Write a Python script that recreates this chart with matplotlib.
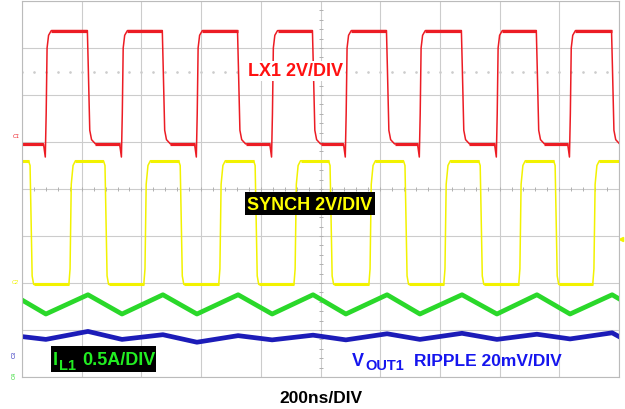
import numpy as np
import matplotlib
matplotlib.use("Agg")
import matplotlib.pyplot as plt
from matplotlib.patches import Rectangle

W, H = 625, 410
plt.rcParams.update({"font.family": ["Liberation Sans", "DejaVu Sans"]})

# scope screen: time in ns (200 ns/div, 10 div), vertical in divisions (8 div)
LX_RISE = [80, 335, 586, 838, 1085, 1333, 1591, 1836]
LX_FALL = [221, 472, 724, 975, 1223, 1474, 1725, 1977]
LX_HIGH, LX_LOW, LX_SPIKE = 3.37, 0.96, 0.68

SYNC_FALL = [30, 281, 533, 784, 1035, 1286, 1538, 1789]
SYNC_RISE = [161, 412, 663, 915, 1166, 1417, 1668, 1916]
SYNC_HIGH, SYNC_LOW = 0.60, -2.03

IL_PEAK, IL_VALLEY = -2.25, -2.66          # inductor current at LX fall / rise
VOUT_START = -3.14
VOUT_PEAK = [-3.03, -3.10, -3.12, -3.11, -3.08, -3.07, -3.09, -3.06]
VOUT_VALLEY = [-3.20, -3.20, -3.26, -3.21, -3.21, -3.20, -3.20, -3.19]

RED, YEL, GRN, BLU = "#ec1c24", "#f2f200", "#2ad82a", "#1c1cb8"
GRID = "#cccccc"


def px(x, y):
    return x / W, 1 - y / H


def lx_trace():
    t, v = [-20], [LX_LOW]
    for r, f in zip(LX_RISE, LX_FALL):
        t += [r - 8, r - 2, r + 1, r + 4, r + 9, r + 18, f - 2, f + 1, f + 6, f + 12, f + 25]
        v += [LX_LOW, LX_SPIKE, 1.6, 3.0, 3.27, LX_HIGH, LX_HIGH, 2.6, 1.25, 1.05, LX_LOW]
    t.append(2020); v.append(LX_LOW)
    return t, v


def sync_trace():
    t, v = [-20], [SYNC_HIGH]
    for f, r in zip(SYNC_FALL, SYNC_RISE):
        t += [f - 8, f - 3, f, f + 4, f + 9, r - 4, r, r + 4, r + 10, r + 18]
        v += [SYNC_HIGH, SYNC_HIGH - 0.1, -0.5, -1.85, SYNC_LOW,
              SYNC_LOW, -1.7, 0.1, 0.5, SYNC_HIGH]
    t.append(2020); v.append(SYNC_HIGH)
    return t, v


fig = plt.figure(figsize=(W / 100, H / 100), dpi=100)
ax = fig.add_axes([22 / W, 1 - 378 / H, 597 / W, 376 / H])
ax.set_xlim(0, 2000); ax.set_ylim(-4, 4)
ax.set_xticks(np.arange(0, 2001, 200)); ax.set_yticks(np.arange(-4, 4.1, 1))
ax.set_xticklabels([]); ax.set_yticklabels([])
ax.tick_params(length=0)
ax.grid(True, color=GRID, lw=0.8)
for s in ax.spines.values():
    s.set_color("#bbbbbb"); s.set_linewidth(0.8)

# centre-line graticule ticks and dotted reference
xs = np.arange(0, 2001, 40)
ys = np.arange(-4, 4.01, 0.2)
ax.plot(xs, np.zeros_like(xs), ls="none", marker="|", ms=3, mew=0.7, color="#b0b0b0")
ax.plot(np.full_like(ys, 1000), ys, ls="none", marker="_", ms=3, mew=0.7, color="#b0b0b0")
ax.plot(xs, np.full_like(xs, 2.5, dtype=float), ls="none", marker="o", ms=0.9,
        color="#cccccc")

# traces
t, v = lx_trace()
ax.plot(t, v, color=RED, lw=1.1)
for r, f in zip(LX_RISE, LX_FALL):
    ax.plot([r + 18, f - 2], [LX_HIGH, LX_HIGH], color=RED, lw=2.3, solid_capstyle="butt")
lows = [-20] + [f + 25 for f in LX_FALL]
for a, b in zip(lows, LX_RISE + [2020]):
    ax.plot([a, b - 8], [LX_LOW, LX_LOW], color=RED, lw=2.3, solid_capstyle="butt")

t, v = sync_trace()
ax.plot(t, v, color=YEL, lw=1.1)
for f, r in zip(SYNC_FALL, SYNC_RISE):
    ax.plot([f + 9, r - 4], [SYNC_LOW, SYNC_LOW], color=YEL, lw=2.2, solid_capstyle="butt")
highs = [-20] + [r + 18 for r in SYNC_RISE]
for a, b in zip(highs, SYNC_FALL + [2020]):
    ax.plot([a, b - 8], [SYNC_HIGH, SYNC_HIGH], color=YEL, lw=2.2, solid_capstyle="butt")

gt, gv = [LX_FALL[0] - 251], [IL_PEAK]
bt, bv = [0], [VOUT_START]
for i, (r, f) in enumerate(zip(LX_RISE, LX_FALL)):
    gt += [r, f]; gv += [IL_VALLEY, IL_PEAK]
    bt += [r, f]; bv += [VOUT_VALLEY[i], VOUT_PEAK[i]]
gt.append(LX_RISE[-1] + 251); gv.append(IL_VALLEY)
bt.append(2000); bv.append(VOUT_START)
ax.plot(gt, gv, color=GRN, lw=3.4)
ax.plot(bt, bv, color=BLU, lw=3.4)

# trigger marker
ax.plot([2008], [-1.07], marker="<", ms=3, color=YEL, clip_on=False)

# channel markers at left edge
fig.text(*px(16, 137), "C1", color=RED, fontsize=4, ha="center", va="center", style="italic")
fig.text(*px(15, 283), "C2", color=YEL, fontsize=4, ha="center", va="center", style="italic")
fig.text(*px(14, 355), "C3", color=BLU, fontsize=4, ha="center", va="center", rotation=90)
fig.text(*px(14, 375), "C4", color=GRN, fontsize=4, ha="center", va="center", rotation=90)

# channel labels
fig.text(*px(296, 72), "LX1 2V/DIV", color="#ff1010", fontsize=13, weight="bold",
         ha="center", va="center",
         bbox=dict(boxstyle="square,pad=0.1", fc="white", ec="none"))
fig.patches.append(Rectangle(px(245, 216), 130 / W, 23 / H, transform=fig.transFigure,
                             fc="black", ec="none"))
fig.text(*px(310, 210), "SYNCH 2V/DIV", color="#ffff00", fontsize=13, weight="bold",
         ha="center", va="baseline")

fig.patches.append(Rectangle(px(51, 373), 105 / W, 26 / H, transform=fig.transFigure,
                             fc="black", ec="none"))
fig.text(*px(53, 365), "I", color="#22ee22", fontsize=13, weight="bold", va="baseline")
fig.text(*px(59, 370), "L1", color="#22ee22", fontsize=10.5, weight="bold", va="baseline")
fig.text(*px(82, 365), "0.5A/DIV", color="#22ee22", fontsize=13, weight="bold", va="baseline")

fig.text(*px(352, 366), "V", color="#1515ee", fontsize=13, weight="bold", va="baseline")
fig.text(*px(365, 370), "OUT1", color="#1515ee", fontsize=10.5, weight="bold", va="baseline")
fig.text(*px(414, 366), "RIPPLE 20mV/DIV", color="#1515ee", fontsize=12.5, weight="bold",
         va="baseline")

fig.text(*px(321, 403), "200ns/DIV", color="black", fontsize=12.5, weight="bold",
         ha="center", va="baseline")

fig.savefig("out.png", dpi=100)
